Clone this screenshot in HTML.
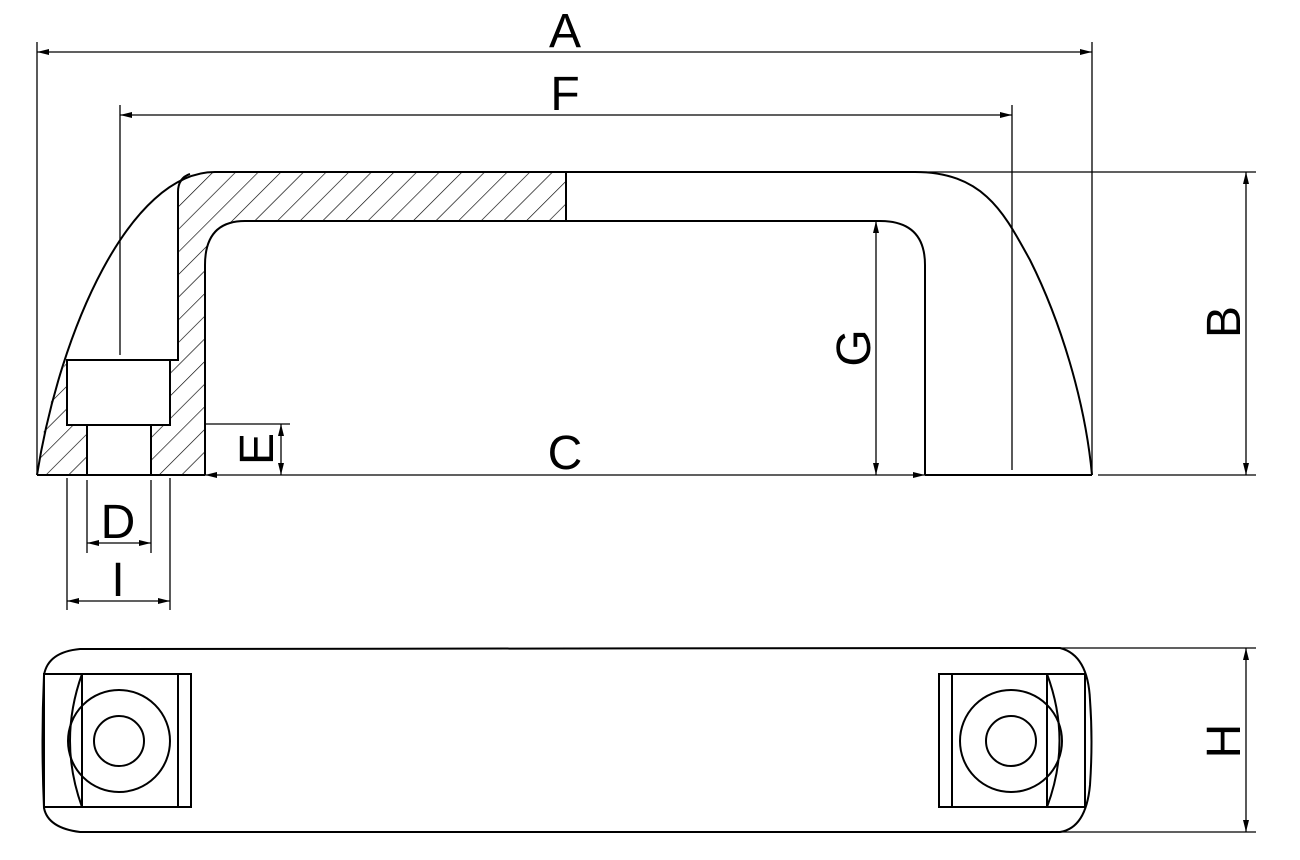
<!DOCTYPE html>
<html><head><style>html,body{margin:0;padding:0;background:#fff;}svg{display:block}</style></head>
<body>
<svg width="1300" height="860" viewBox="0 0 1300 860" xmlns="http://www.w3.org/2000/svg">
<defs>
<pattern id="h" patternUnits="userSpaceOnUse" width="16" height="16" patternTransform="rotate(45)">
<line x1="0" y1="0" x2="0" y2="16" stroke="#000" stroke-width="1.3"/>
</pattern>
<marker id="ar" viewBox="0 0 12 6" refX="12" refY="3" markerWidth="12" markerHeight="6" orient="auto-start-reverse" markerUnits="userSpaceOnUse">
<path d="M0,0 L12,3 L0,6 z" fill="#000"/>
</marker>
</defs>
<g fill="none" stroke="#000" stroke-width="2">
<!-- hatched regions -->
<path d="M37,475 C42,430 52,390 67,360 L67,425 L87,425 L87,475 Z" fill="url(#h)" stroke="none"/>
<path d="M151,475 L151,425 L170,425 L170,360 L178,360 L178,192 Q178,172 205,172 L566,172 L566,221 L245,221 Q205,221 205,265 L205,475 Z" fill="url(#h)" stroke="none"/>
<!-- outline of side view -->
<path d="M37,475 C60,330 130,172 215,172 L915,172 C985,172 1005,215 1030,260 C1060,320 1085,400 1092,475"/>
<line x1="37" y1="475" x2="205" y2="475"/>
<line x1="925" y1="475" x2="1092" y2="475"/>
<path d="M205,475 L205,265 Q205,221 245,221 L880,221 Q925,221 925,265 L925,475"/>
<path d="M178,192 Q178,178 190,174 M178,192 L178,360 L170,360"/>
<rect x="67" y="360" width="103" height="65"/>
<path d="M87,425 L87,475 M151,425 L151,475"/>
<line x1="566" y1="172" x2="566" y2="221"/>
<path d="M170,360 L170,425" />
</g>
<g fill="none" stroke="#000" stroke-width="1.3">
<!-- A -->
<line x1="37" y1="42" x2="37" y2="475"/>
<line x1="1092" y1="42" x2="1092" y2="475"/>
<line x1="37" y1="52" x2="1092" y2="52" marker-start="url(#ar)" marker-end="url(#ar)"/>
<!-- F -->
<line x1="120" y1="105" x2="120" y2="355"/>
<line x1="1012" y1="105" x2="1012" y2="470"/>
<line x1="120" y1="115" x2="1012" y2="115" marker-start="url(#ar)" marker-end="url(#ar)"/>
<!-- B -->
<line x1="915" y1="172" x2="1256" y2="172"/>
<line x1="1098" y1="475" x2="1256" y2="475"/>
<line x1="1246" y1="172" x2="1246" y2="475" marker-start="url(#ar)" marker-end="url(#ar)"/>
<!-- G -->
<line x1="876" y1="221" x2="876" y2="475" marker-start="url(#ar)" marker-end="url(#ar)"/>
<!-- C -->
<line x1="205" y1="475" x2="925" y2="475" marker-start="url(#ar)" marker-end="url(#ar)"/>
<!-- E -->
<line x1="205" y1="424" x2="290" y2="424"/>
<line x1="281" y1="424" x2="281" y2="475" marker-start="url(#ar)" marker-end="url(#ar)"/>
<!-- D -->
<line x1="87" y1="480" x2="87" y2="553"/>
<line x1="151" y1="480" x2="151" y2="553"/>
<line x1="87" y1="543" x2="151" y2="543" marker-start="url(#ar)" marker-end="url(#ar)"/>
<!-- I -->
<line x1="67" y1="478" x2="67" y2="610"/>
<line x1="170" y1="478" x2="170" y2="610"/>
<line x1="67" y1="601" x2="170" y2="601" marker-start="url(#ar)" marker-end="url(#ar)"/>
<!-- H -->
<line x1="1060" y1="648" x2="1256" y2="648"/>
<line x1="1060" y1="832" x2="1256" y2="832"/>
<line x1="1246" y1="648" x2="1246" y2="832" marker-start="url(#ar)" marker-end="url(#ar)"/>
</g>
<!-- bottom view -->
<g fill="none" stroke="#000" stroke-width="2">
<path d="M80,649 L1060,648 Q1088,655 1090,700 Q1093,741 1090,785 Q1086,828 1060,832 L80,832 Q48,828 44,808 Q41,741 44,675 Q48,652 80,649 Z"/>
<rect x="44" y="674" width="147" height="133"/>
<line x1="82" y1="674" x2="82" y2="807"/>
<line x1="178" y1="674" x2="178" y2="807"/>
<path d="M82,674 Q58,741 82,807"/>
<circle cx="119" cy="741" r="51"/>
<circle cx="119" cy="741" r="25"/>
<rect x="939" y="674" width="146" height="133"/>
<line x1="952" y1="674" x2="952" y2="807"/>
<line x1="1047" y1="674" x2="1047" y2="807"/>
<path d="M1047,674 Q1072,741 1047,807"/>
<circle cx="1011" cy="741" r="51"/>
<circle cx="1011" cy="741" r="25"/>
</g>
<g font-family="Liberation Sans, sans-serif" font-size="48" fill="#000" text-anchor="middle">
<text x="565" y="47">A</text>
<text x="565" y="110">F</text>
<text x="565" y="469">C</text>
<text x="118" y="538">D</text>
<text x="118" y="596">I</text>
<text transform="translate(1240,322) rotate(-90)">B</text>
<text transform="translate(870,348) rotate(-90)">G</text>
<text transform="translate(273,449) rotate(-90)">E</text>
<text transform="translate(1240,741) rotate(-90)">H</text>
</g>
</svg>
</body></html>
